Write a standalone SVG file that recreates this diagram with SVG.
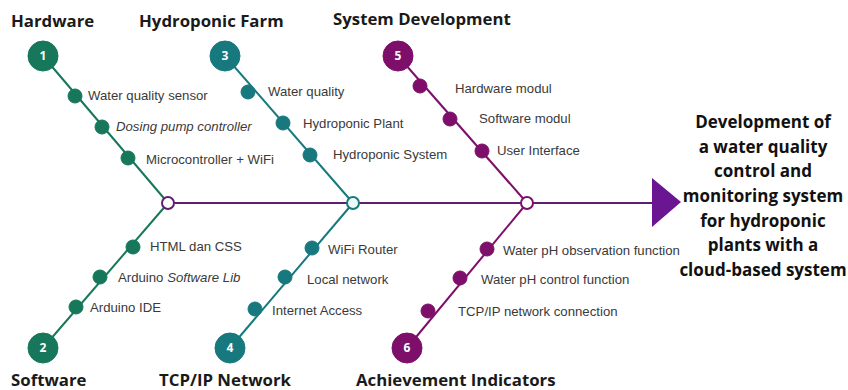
<svg xmlns="http://www.w3.org/2000/svg" width="848" height="390" viewBox="0 0 848 390">
<style>
.t{font-family:"Open Sans","Liberation Sans",sans-serif;font-weight:bold;font-size:16.8px;fill:#1a1a1a}
.l{font-family:"Liberation Sans",Arial,sans-serif;font-size:13.2px;fill:#3a3a3a}
.n{font-family:"Open Sans","Liberation Sans",sans-serif;font-weight:bold;font-size:12px;fill:#ffffff;text-anchor:middle}
.g{stroke:#16775a;fill:#16775a}
.c{stroke:#17787d;fill:#17787d}
.p{stroke:#7d0f6a;fill:#7d0f6a}
.br{stroke-width:2;fill:none}
.r{font-family:"Open Sans","Liberation Sans",sans-serif;font-weight:bold;font-size:17px;fill:#111;text-anchor:middle}
</style>
<rect width="848" height="390" fill="#ffffff"/>
<g id="connectors">
<line x1="168" y1="203" x2="655" y2="203" stroke="#5e1f72" stroke-width="2"/>
<line class="g br" x1="43" y1="56" x2="168" y2="203"/>
<line class="g br" x1="43" y1="348" x2="168" y2="203"/>
<line class="c br" x1="225" y1="56" x2="353" y2="203"/>
<line class="c br" x1="230" y1="348" x2="353" y2="203"/>
<line class="p br" x1="398" y1="56" x2="527" y2="203"/>
<line class="p br" x1="407" y1="348" x2="527" y2="203"/>
<polygon points="652,178 681,202 652,227" fill="#6a1591"/>
<circle cx="168" cy="203" r="6" fill="#ffffff" stroke="#5e1f72" stroke-width="2"/>
<circle cx="353" cy="203" r="6" fill="#eafafa" stroke="#17787d" stroke-width="2"/>
<circle cx="527" cy="203" r="6" fill="#ffffff" stroke="#7d0f6a" stroke-width="2"/>
</g>
<g id="hardware">
<text class="t" x="11" y="27">Hardware</text>
<circle class="g" cx="43" cy="56" r="15"/>
<text class="n" x="43" y="60">1</text>
<circle class="g" cx="75" cy="96" r="7"/>
<circle class="g" cx="102" cy="127" r="7"/>
<circle class="g" cx="128" cy="158" r="7"/>
<text class="l" x="88" y="100">Water quality sensor</text>
<text class="l" x="116" y="131" font-style="italic">Dosing pump controller</text>
<text class="l" x="146" y="164">Microcontroller + WiFi</text>
</g>
<g id="hydroponic-farm">
<text class="t" x="139" y="27">Hydroponic Farm</text>
<circle class="c" cx="225" cy="56" r="15"/>
<text class="n" x="225" y="60">3</text>
<circle class="c" cx="248" cy="92" r="7"/>
<circle class="c" cx="283" cy="123" r="7"/>
<circle class="c" cx="310" cy="155" r="7"/>
<text class="l" x="268" y="96">Water quality</text>
<text class="l" x="303" y="128">Hydroponic Plant</text>
<text class="l" x="333" y="159">Hydroponic System</text>
</g>
<g id="system-development">
<text class="t" x="333" y="25">System Development</text>
<circle class="p" cx="398" cy="56" r="15"/>
<text class="n" x="398" y="60">5</text>
<circle class="p" cx="420" cy="86" r="7"/>
<circle class="p" cx="450" cy="119" r="7"/>
<circle class="p" cx="482" cy="151" r="7"/>
<text class="l" x="455" y="93">Hardware modul</text>
<text class="l" x="479" y="123">Software modul</text>
<text class="l" x="497" y="155">User Interface</text>
</g>
<g id="software">
<text class="t" x="11" y="386">Software</text>
<circle class="g" cx="43" cy="348" r="15"/>
<text class="n" x="43" y="352">2</text>
<circle class="g" cx="133" cy="247" r="7"/>
<circle class="g" cx="100" cy="277" r="7"/>
<circle class="g" cx="76" cy="307" r="7"/>
<text class="l" x="150" y="251">HTML dan CSS</text>
<text class="l" x="118" y="282">Arduino <tspan font-style="italic">Software Lib</tspan></text>
<text class="l" x="90" y="312">Arduino IDE</text>
</g>
<g id="tcp-ip-network">
<text class="t" x="159" y="386">TCP/IP Network</text>
<circle class="c" cx="230" cy="348" r="15"/>
<text class="n" x="230" y="352">4</text>
<circle class="c" cx="312" cy="248" r="7"/>
<circle class="c" cx="285" cy="277" r="7"/>
<circle class="c" cx="255" cy="309" r="7"/>
<text class="l" x="328" y="254">WiFi Router</text>
<text class="l" x="307" y="284">Local network</text>
<text class="l" x="272" y="315">Internet Access</text>
</g>
<g id="achievement-indicators">
<text class="t" x="356" y="386">Achievement Indicators</text>
<circle class="p" cx="407" cy="348" r="15"/>
<text class="n" x="407" y="352">6</text>
<circle class="p" cx="487" cy="249" r="7"/>
<circle class="p" cx="460" cy="278" r="7"/>
<circle class="p" cx="428" cy="311" r="7"/>
<text class="l" x="503" y="255">Water pH observation function</text>
<text class="l" x="481" y="284">Water pH control function</text>
<text class="l" x="458" y="316">TCP/IP network connection</text>
</g>
<g id="result">
<text class="r" x="763" y="128">Development of</text>
<text class="r" x="763" y="153">a water quality</text>
<text class="r" x="763" y="177">control and</text>
<text class="r" x="763" y="202">monitoring system</text>
<text class="r" x="763" y="227">for hydroponic</text>
<text class="r" x="763" y="251">plants with a</text>
<text class="r" x="763" y="276">cloud-based system</text>
</g>
</svg>
